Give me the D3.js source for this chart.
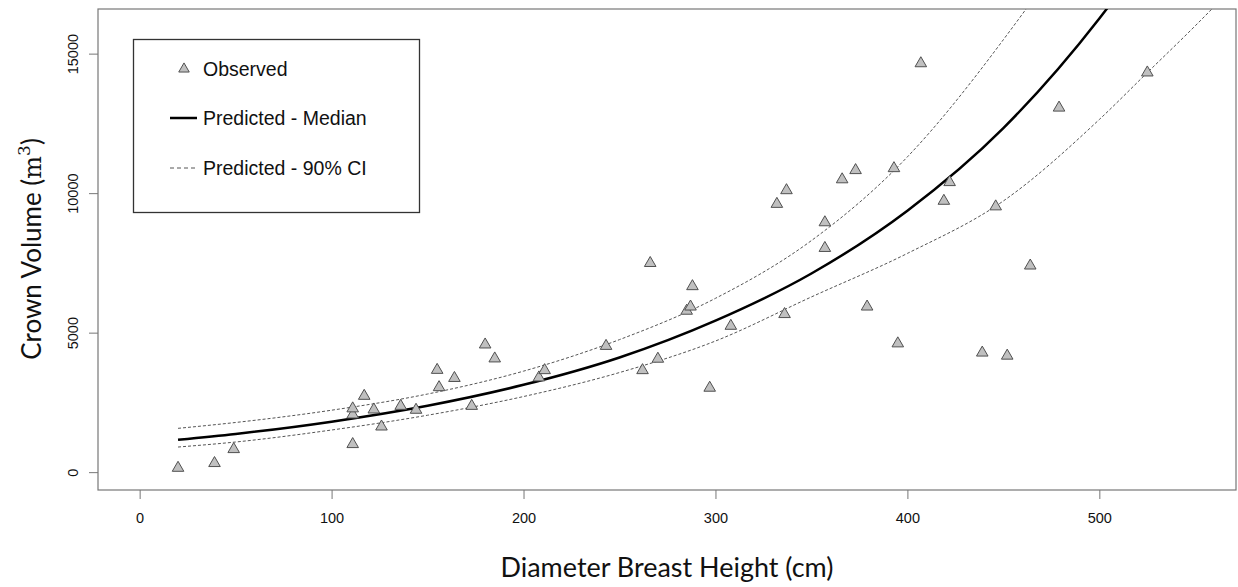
<!DOCTYPE html>
<html>
<head>
<meta charset="utf-8">
<script src="https://cdnjs.cloudflare.com/ajax/libs/d3/7.8.5/d3.min.js"></script>
<style>
  body { margin: 0; background: #fff; }
  svg { display: block; }
</style>
</head>
<body>
<div id="canvas"></div>
<script>
// observed trees (dbh in cm, crown volume in m3)
var obsDbh = [20, 39, 49, 111, 111, 111, 117, 122, 126, 136, 144, 155, 156, 164, 173, 180,
  185, 208, 211, 243, 262, 266, 270, 285, 287, 288, 297, 308,
  332, 336, 337, 357, 357, 366, 373, 379, 393, 395, 407, 419, 422, 439, 446, 452, 464, 479, 525];
var obsVol = [150, 320, 820, 1000, 2060, 2280, 2730, 2240, 1630, 2370, 2230, 3660, 3040, 3370, 2370, 4570,
  4070, 3390, 3650, 4520, 3650, 7490, 4060, 5780, 5930, 6660, 3020, 5240,
  9610, 5660, 10100, 8950, 8030, 10490, 10820, 5930, 10890, 4610, 14650, 9720, 10390, 4280, 9520, 4170, 7400, 13060, 14320];

// predicted curve
var predDbh    = [20, 50, 100, 150, 200, 250, 300, 350, 400, 450, 500, 525, 550, 570];
var predMedian = [1160, 1370, 1810, 2380, 3130, 4110, 5430, 7120, 9370, 12330, 16260, 18600, 21300, 23800];
var predUpper  = [1570, 1780, 2220, 2800, 3620, 4750, 6230, 8300, 11300, 15500, 20500, 23500, 27000, 30000];
var predLower  = [900, 1080, 1510, 2040, 2710, 3570, 4700, 6280, 7840, 9720, 12640, 14320, 16000, 17400];

var xTicks = [0, 100, 200, 300, 400, 500];
var yTicks = [0, 5000, 10000, 15000];
var legendLabels = ["Observed", "Predicted - Median", "Predicted - 90% CI"];

var W = 1238, H = 587;
var plot = {left: 98, right: 1236, top: 9, bottom: 490};

var svg = d3.select("#canvas").append("svg")
  .attr("width", W)
  .attr("height", H);

var x = d3.scaleLinear().domain([-21.7, 571.2]).range([plot.left, plot.right]);
var y = d3.scaleLinear().domain([-640, 16600]).range([plot.bottom, plot.top]);

svg.append("clipPath").attr("id", "clip")
  .append("rect")
  .attr("x", plot.left).attr("y", plot.top)
  .attr("width", plot.right - plot.left).attr("height", plot.bottom - plot.top);

// axes
var xAxis = svg.append("g")
  .attr("transform", "translate(0," + plot.bottom + ")")
  .call(d3.axisBottom(x).tickValues(xTicks).tickFormat(d3.format("d")).tickSize(9).tickPadding(14));
var yAxis = svg.append("g")
  .attr("transform", "translate(" + plot.left + ",0)")
  .call(d3.axisLeft(y).tickValues(yTicks).tickFormat(d3.format("d")).tickSize(9));

[xAxis, yAxis].forEach(function(a) {
  a.select(".domain").remove();
  a.selectAll("line").attr("stroke", "#777");
  a.selectAll("text")
    .attr("fill", "#111")
    .style("font-family", "'Liberation Sans', Arial, sans-serif")
    .style("font-size", "14.5px");
});
yAxis.selectAll("text")
  .attr("x", null).attr("dy", null)
  .attr("text-anchor", "middle")
  .attr("transform", "translate(-20,0) rotate(-90)");

// box
svg.append("rect")
  .attr("x", plot.left).attr("y", plot.top)
  .attr("width", plot.right - plot.left).attr("height", plot.bottom - plot.top)
  .attr("fill", "none").attr("stroke", "#777").attr("stroke-width", 1.2);

var curves = svg.append("g").attr("clip-path", "url(#clip)");

function line(vals) {
  return d3.line()
    .x(function(d, i) { return x(predDbh[i]); })
    .y(function(d) { return y(d); })
    .curve(d3.curveMonotoneX)(vals);
}

curves.append("path").attr("d", line(predUpper))
  .attr("fill", "none").attr("stroke", "#555").attr("stroke-width", 1).attr("stroke-dasharray", "3,2");
curves.append("path").attr("d", line(predLower))
  .attr("fill", "none").attr("stroke", "#555").attr("stroke-width", 1).attr("stroke-dasharray", "3,2");
curves.append("path").attr("d", line(predMedian))
  .attr("fill", "none").attr("stroke", "#000").attr("stroke-width", 2.5);

var tri = d3.symbol().type(d3.symbolTriangle).size(58);

svg.append("g").selectAll("path")
  .data(obsDbh)
  .enter().append("path")
    .attr("d", tri)
    .attr("transform", function(d, i) { return "translate(" + x(d) + "," + y(obsVol[i]) + ")"; })
    .attr("fill", "#c0c0c0")
    .attr("stroke", "#505050")
    .attr("stroke-width", 1);

// legend
var lg = svg.append("g");
lg.append("rect")
  .attr("x", 133.5).attr("y", 39.5).attr("width", 286).attr("height", 173)
  .attr("fill", "#fff").attr("stroke", "#333").attr("stroke-width", 1.3);

var rowY = [69, 118, 168];
lg.append("path").attr("d", d3.symbol().type(d3.symbolTriangle).size(48))
  .attr("transform", "translate(184," + rowY[0] + ")")
  .attr("fill", "#c0c0c0").attr("stroke", "#505050");
lg.append("line").attr("x1", 170).attr("x2", 197).attr("y1", rowY[1]).attr("y2", rowY[1])
  .attr("stroke", "#000").attr("stroke-width", 2.5);
lg.append("line").attr("x1", 170).attr("x2", 197).attr("y1", rowY[2]).attr("y2", rowY[2])
  .attr("stroke", "#555").attr("stroke-width", 1).attr("stroke-dasharray", "4,3");

lg.selectAll("text.lab")
  .data(legendLabels)
  .enter().append("text")
    .attr("class", "lab")
    .attr("x", 203)
    .attr("y", function(d, i) { return rowY[i] + 7; })
    .style("font-family", "'Liberation Sans', Arial, sans-serif")
    .style("font-size", "19.5px")
    .attr("fill", "#111")
    .text(function(d) { return d; });

// axis titles
svg.append("text")
  .attr("x", 667).attr("y", 577)
  .attr("text-anchor", "middle")
  .attr("textLength", 333).attr("lengthAdjust", "spacingAndGlyphs")
  .style("font-family", "Lato, 'Open Sans', sans-serif")
  .style("font-size", "26px")
  .attr("fill", "#111")
  .text("Diameter Breast Height (cm)");

var yt = svg.append("text")
  .attr("transform", "translate(41,249) rotate(-90)")
  .attr("text-anchor", "middle")
  .style("font-family", "Lato, 'Open Sans', sans-serif")
  .style("font-size", "26px")
  .attr("fill", "#111");
yt.append("tspan").text("Crown Volume (");
yt.append("tspan").style("font-family", "'DejaVu Serif', serif").style("font-size", "24px").text("m");
yt.append("tspan").attr("dy", -11).style("font-size", "17px").style("font-family", "'DejaVu Serif', serif").text("3");
yt.append("tspan").attr("dy", 11).text(")");
</script>
</body>
</html>
